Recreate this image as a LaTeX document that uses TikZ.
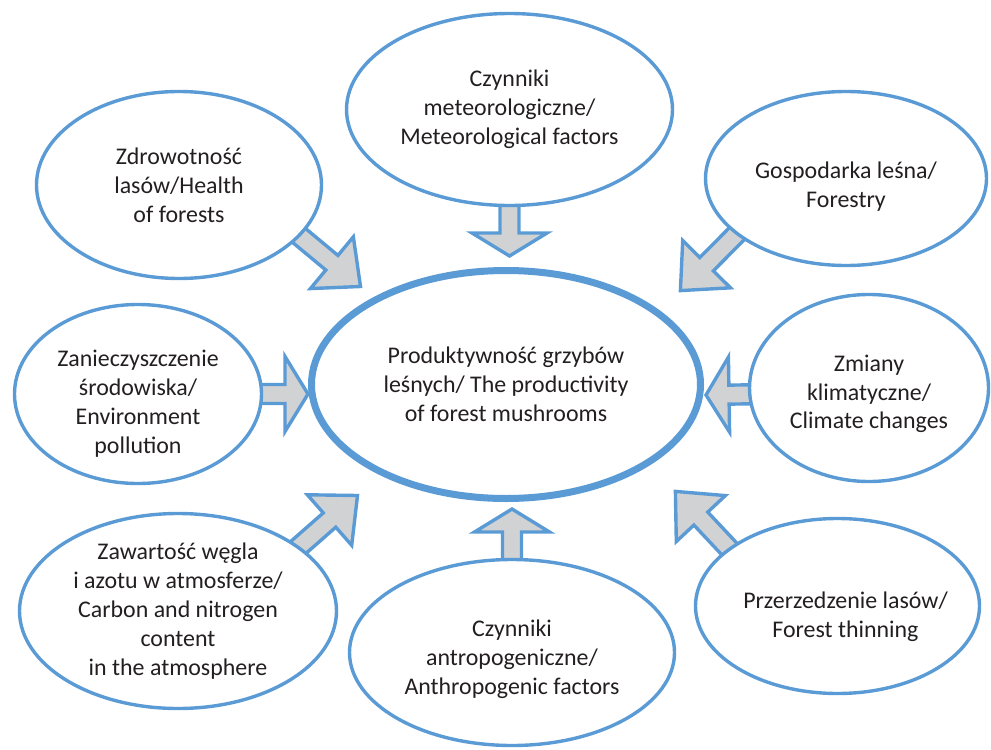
\documentclass[tikz,border=0pt]{standalone}
\usepackage{fontspec}
\setmainfont{Carlito}
\usetikzlibrary{shapes.geometric,calc,backgrounds}
\definecolor{lblue}{RGB}{91,155,213}
\definecolor{agray}{RGB}{209,210,212}
\definecolor{txt}{RGB}{35,31,32}
\newcommand{\txtdrop}[1]{\rule{0pt}{#1}}

\tikzset{
  blockarr/.style n args={3}{draw=lblue, fill=agray, line width=0.085cm, line join=miter,
    to path={let \p1=(\tikztostart), \p2=(\tikztotarget),
      \n1={atan2(\y2-\y1,\x2-\x1)} in
      ($(\p1)+(\n1:-0.15cm)+(\n1+90:#1)$) -- ($(\p2)+(\n1:-#3)+(\n1+90:#1)$)
      -- ($(\p2)+(\n1:-#3)+(\n1+90:#2)$) -- (\p2)
      -- ($(\p2)+(\n1:-#3)+(\n1-90:#2)$) -- ($(\p2)+(\n1:-#3)+(\n1-90:#1)$)
      -- ($(\p1)+(\n1:-0.15cm)+(\n1-90:#1)$) -- cycle}},
  sz/.style 2 args={minimum width=#1*0.025cm, minimum height=#2*0.025cm}
}

\begin{document}
\begin{tikzpicture}[x=0.025cm, y=-0.025cm, font=\fontsize{17}{20.6}\selectfont, text=txt]
  \tikzstyle{fac}=[ellipse, draw=lblue, line width=0.085cm, fill=white, align=center, inner sep=-5pt]
  \tikzstyle{prod}=[fac, line width=0.175cm]
  \tikzstyle{sa}=[blockarr={0.2375cm}{0.9375cm}{0.575cm}]
  \tikzstyle{da}=[blockarr={0.2375cm}{0.84cm}{0.93cm}]
  \useasboundingbox (0,0) rectangle (991,749);

  \node[prod, sz={389}{228}] (cen) at (506,384.5) {Produktywność grzybów\\leśnych/ The productivity\\of forest mushrooms};
  \node[fac, sz={326}{192}] (met) at (509.5,109.5) {Czynniki\\meteorologiczne/\\Meteorological factors};
  \node[fac, sz={285}{187}] (hea) at (179,185) {Zdrowotność\\lasów/Health\\of forests};
  \node[fac, sz={281}{174}] (frs) at (846,178.5) {\txtdrop{24pt}Gospodarka leśna/\\Forestry};
  \node[fac, sz={247}{179}] (pol) at (138,394) {\txtdrop{25pt}Zanieczyszczenie\\środowiska/\\Environment\\pollution};
  \node[fac, sz={239}{187}] (cli) at (869,388) {\txtdrop{20pt}Zmiany\\klimatyczne/\\Climate changes};
  \node[fac, sz={317}{195}] (car) at (178,611) {Zawartość węgla\\i azotu w atmosferze/\\Carbon and nitrogen\\content\\in the atmosphere};
  \node[fac, sz={325}{186}] (ant) at (512,652.5) {\txtdrop{21pt}Czynniki\\antropogeniczne/\\Anthropogenic factors};
  \node[fac, sz={284}{175}, inner xsep=-12pt] (thi) at (837.5,606) {\hspace*{0.4cm}\txtdrop{27pt}Przerzedzenie lasów/\\\hspace*{0.4cm}Forest thinning};

  % arrow tips, just short of the central ellipse
  \coordinate (tMet) at (509.5,256);
  \coordinate (tAnt) at (512,509);
  \coordinate (tPol) at (308,394);
  \coordinate (tCli) at (706,395);
  \coordinate (tHea) at (360.5,286.5);
  \coordinate (tFrs) at (680.4,290.6);
  \coordinate (tCar) at (357.5,495.5);
  \coordinate (tThi) at (675.4,491.4);

  \begin{scope}[on background layer]
    \foreach \from/\to/\kind in {met.south/tMet/sa,ant.north/tAnt/sa,pol.east/tPol/sa,cli.183/tCli/sa,hea.-23/tHea/da,frs.207/tFrs/da,car.28/tCar/da,thi.152/tThi/da}
    \draw[\kind] (\from) to (\to);
  \end{scope}
\end{tikzpicture}
\end{document}
